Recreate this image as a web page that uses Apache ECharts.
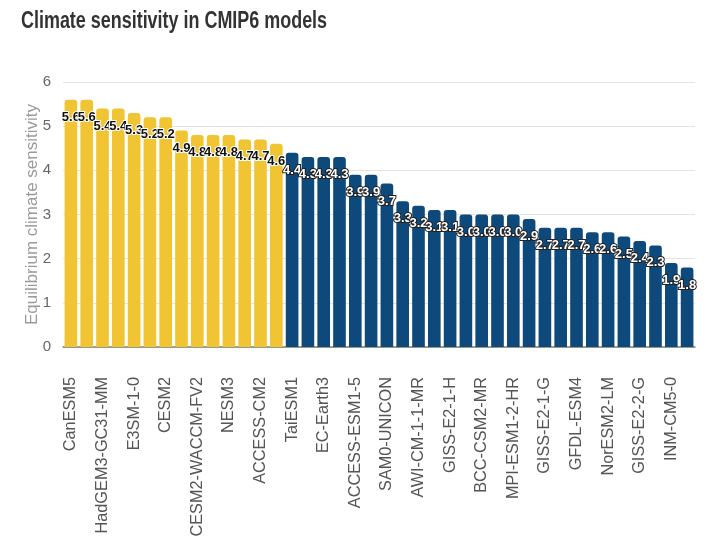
<!DOCTYPE html>
<html><head><meta charset="utf-8">
<script src="https://cdn.jsdelivr.net/npm/echarts@6/dist/echarts.min.js"></script>
<style>html,body{margin:0;padding:0;background:#fff}#c{width:720px;height:554px}</style>
</head><body><div id="c"></div>
<script>
const titleText = 'Climate sensitivity in CMIP6 models';
const models = ["CanESM5","","HadGEM3-GC31-MM","","E3SM-1-0","","CESM2","","CESM2-WACCM-FV2","","NESM3","","ACCESS-CM2","",
  "TaiESM1","","EC-Earth3","","ACCESS-ESM1-5","","SAM0-UNICON","","AWI-CM-1-1-MR","","GISS-E2-1-H","","BCC-CSM2-MR","","MPI-ESM1-2-HR","","GISS-E2-1-G","","GFDL-ESM4","","NorESM2-LM","","GISS-E2-2-G","","INM-CM5-0",""];
const highValues = [5.6,5.6,5.4,5.4,5.3,5.2,5.2,4.9,4.8,4.8,4.8,4.7,4.7,4.6];
const lowValues = [4.4,4.3,4.3,4.3,3.9,3.9,3.7,3.3,3.2,3.1,3.1,3.0,3.0,3.0,3.0,2.9,2.7,2.7,2.7,2.6,2.6,2.5,2.4,2.3,1.9,1.8];
const yTicks = [0,1,2,3,4,5,6];

const cats = models.map((m,i)=> m === "" ? "_" + i : m);
const highData = cats.map((c,i)=> i < highValues.length ? highValues[i] : '-');
const lowData = cats.map((c,i)=> i >= highValues.length ? lowValues[i - highValues.length] : '-');
const sans = "'Liberation Sans',Arial,sans-serif";

const chart = echarts.init(document.getElementById('c'));
chart.setOption({
  animation:false,
  graphic:[{type:'text',x:21,y:10,scaleX:0.78,
    style:{text:titleText,font:"bold 23px 'Liberation Sans', Arial, sans-serif",fill:'#333'}}],
  grid:{left:63,right:25,top:82,bottom:207},
  xAxis:{type:'category',data:cats,
    axisLine:{lineStyle:{color:'#857d72',width:1.5}},
    axisTick:{show:false},
    axisLabel:{rotate:90,interval:0,margin:30,fontSize:16.3,color:'#555',
      fontFamily:sans,
      formatter:v=> v.startsWith('_') ? '' : v}},
  yAxis:{type:'value',min:0,max:6,interval:1,
    name:'Equilibrium climate sensitivity',nameLocation:'middle',nameGap:22,nameMoveOverlap:false,
    nameTextStyle:{fontSize:17,color:'#9a9a9a',fontFamily:sans},
    axisLabel:{margin:12,fontSize:15,color:'#666',fontFamily:sans,
      formatter:v=> yTicks.includes(v) ? String(v) : ''},
    splitLine:{lineStyle:{color:'#e3e3e3'}}},
  series:[
    {type:'bar',data:highData,barCategoryGap:'20%',barGap:'-100%',
     itemStyle:{color:'#F0C433',borderRadius:[3,3,0,0]},
     label:{show:true,position:'insideTop',distance:11,formatter:p=>p.value.toFixed(1),
       fontFamily:sans,fontWeight:'bold',fontSize:13,color:'#111',
       textBorderColor:'#fff',textBorderWidth:2}},
    {type:'bar',data:lowData,barCategoryGap:'20%',barGap:'-100%',
     itemStyle:{color:'#0D4A7B',borderRadius:[3,3,0,0]},
     label:{show:true,position:'insideTop',distance:11,formatter:p=>p.value.toFixed(1),
       fontFamily:sans,fontWeight:'bold',fontSize:13,color:'#fff',
       textBorderColor:'#222',textBorderWidth:2}}
  ]
});
</script></body></html>
